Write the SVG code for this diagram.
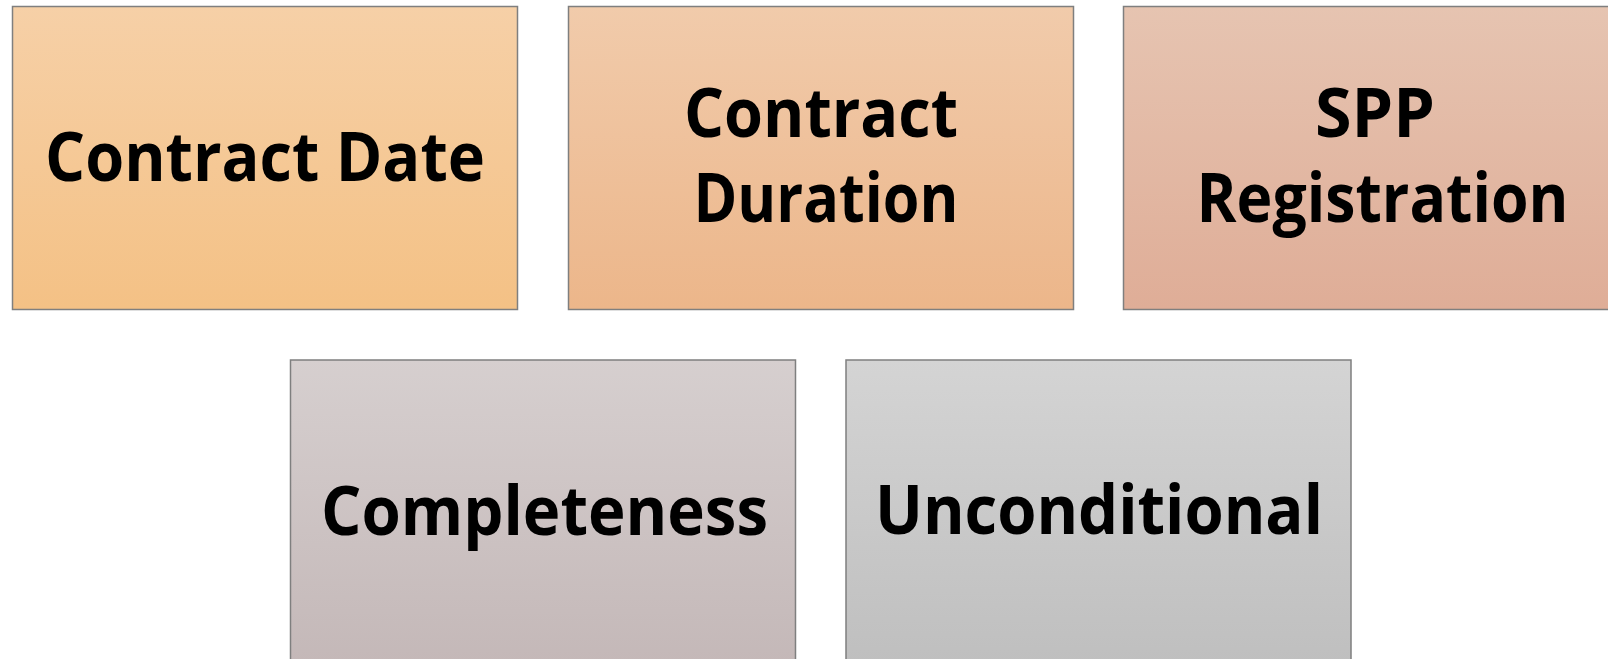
<svg xmlns="http://www.w3.org/2000/svg" width="1608" height="659" viewBox="0 0 1608 659">
<style>
.box{stroke:#7f7f7f;stroke-width:1.5}
.t{font-family:"Open Sans","Lato","Liberation Sans",sans-serif;font-weight:700;font-size:68px;fill:#000;text-anchor:middle}
</style>
<defs>
<linearGradient id="g1" x1="0" y1="0" x2="0" y2="1"><stop offset="0" stop-color="#F6D0A7"/><stop offset="1" stop-color="#F4C185"/></linearGradient>
<linearGradient id="g2" x1="0" y1="0" x2="0" y2="1"><stop offset="0" stop-color="#F1CBAB"/><stop offset="1" stop-color="#ECB68A"/></linearGradient>
<linearGradient id="g3" x1="0" y1="0" x2="0" y2="1"><stop offset="0" stop-color="#E6C4B1"/><stop offset="1" stop-color="#DFAD97"/></linearGradient>
<linearGradient id="g4" x1="0" y1="0" x2="0" y2="1"><stop offset="0" stop-color="#D6CFCF"/><stop offset="1" stop-color="#C4B8B8"/></linearGradient>
<linearGradient id="g5" x1="0" y1="0" x2="0" y2="1"><stop offset="0" stop-color="#D4D4D4"/><stop offset="1" stop-color="#BFBFBF"/></linearGradient>
</defs>
<rect width="1608" height="659" fill="#fff"/>
<g id="connectors"></g>
<g id="node-contract-date">
<rect class="box" x="12.5" y="6.5" width="505" height="303" fill="url(#g1)"/>
<text class="t" x="265" y="181" textLength="440" lengthAdjust="spacingAndGlyphs">Contract Date</text>
</g>
<g id="node-contract-duration">
<rect class="box" x="568.5" y="6.5" width="505" height="303" fill="url(#g2)"/>
<text class="t" x="821" y="136.5" textLength="274" lengthAdjust="spacingAndGlyphs">Contract</text>
<text class="t" x="826" y="221.5" textLength="265" lengthAdjust="spacingAndGlyphs">Duration</text>
</g>
<g id="node-spp-registration">
<rect class="box" x="1123.5" y="6.5" width="505" height="303" fill="url(#g3)"/>
<text class="t" x="1375" y="136.5" textLength="120" lengthAdjust="spacingAndGlyphs">SPP</text>
<text class="t" x="1382.5" y="221.5" textLength="372" lengthAdjust="spacingAndGlyphs">Registration</text>
</g>
<g id="node-completeness">
<rect class="box" x="290.5" y="360" width="505" height="303" fill="url(#g4)"/>
<text class="t" x="544.5" y="535" textLength="447" lengthAdjust="spacingAndGlyphs">Completeness</text>
</g>
<g id="node-unconditional">
<rect class="box" x="846" y="360" width="505" height="303" fill="url(#g5)"/>
<text class="t" x="1099" y="534" textLength="448" lengthAdjust="spacingAndGlyphs">Unconditional</text>
</g>
</svg>
